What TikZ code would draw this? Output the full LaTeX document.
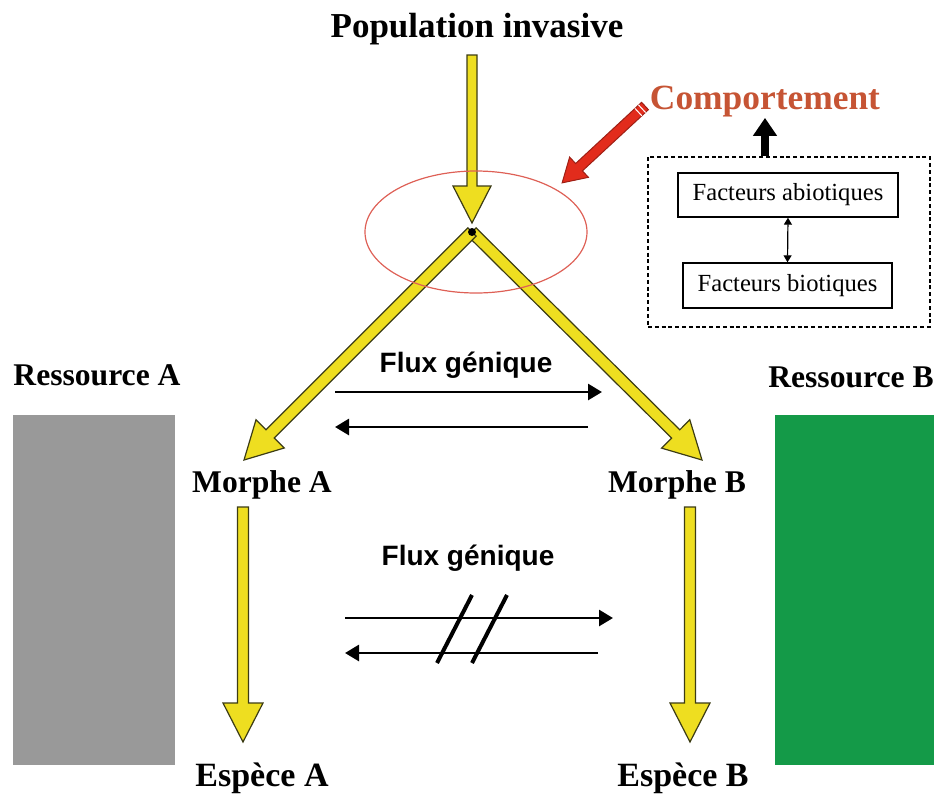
\documentclass[tikz,border=0pt]{standalone}
\usepackage{fontspec}
\setmainfont{Liberation Serif}
\newfontfamily\arialfont{Liberation Sans}
\usepackage{xcolor}
\usepackage{tikz}
\usetikzlibrary{arrows.meta}
\usetikzlibrary{shapes.geometric, calc}

\definecolor{giallo}{RGB}{238,222,32}
\definecolor{bordogiallo}{RGB}{60,60,20}
\definecolor{rossoellisse}{RGB}{222,96,86}
\definecolor{rossofreccia}{RGB}{226,44,28}
\definecolor{arancio}{RGB}{198,84,52}
\definecolor{grigio}{RGB}{153,153,153}
\definecolor{verde}{RGB}{20,154,72}

% freccia larga: [stile]{da}{a}{mezzo fusto}{mezza punta}{lunghezza punta}
\newcommand\frecciona[6][]{%
  \path let \p1=($(#3)-(#2)$) in
    \pgfextra{\pgfmathsetmacro\frang{atan2(\y1,\x1)}%
              \pgfmathsetmacro\frlen{veclen(\x1,\y1)}%
              \global\let\frang\frang \global\let\frlen\frlen};
  \filldraw[#1, shift={(#2)}, rotate=\frang]
    (0pt,-#4) -- (\frlen pt-#6,-#4) -- (\frlen pt-#6,-#5) -- (\frlen pt,0pt)
    -- (\frlen pt-#6,#5) -- (\frlen pt-#6,#4) -- (0pt,#4) -- cycle;}

\begin{document}
\begin{tikzpicture}[x=0.5pt, y=-0.5pt,
    titolo/.style={font=\bfseries\fontsize{17.5}{20}\selectfont, inner sep=0pt},
    morfo/.style={font=\bfseries\fontsize{15.8}{18}\selectfont, inner sep=0pt},
    specie/.style={font=\bfseries\fontsize{17}{19}\selectfont, inner sep=0pt},
    flusso/.style={font=\arialfont\bfseries\fontsize{14}{16}\selectfont, inner sep=0pt},
    fattore/.style={draw, line width=0.7pt, font=\fontsize{12.3}{14}\selectfont, inner sep=0pt},
    gialla/.style={fill=giallo, draw=bordogiallo, line width=0.6pt},
    rossa/.style={fill=rossofreccia, draw=rossofreccia!70!black, line width=0.5pt},
    flux/.style={line width=1.4pt, -{Triangle[length=7pt, width=8pt]}},
    barra/.style={line width=2pt}]
    \useasboundingbox (0,0) rectangle (934,794);

    % Risorse
    \fill[grigio] (13,415) rectangle (175,765);
    \fill[verde] (775,415) rectangle (934,765);
    \node[morfo] (resA) at (97,375) {Ressource A};
    \node[morfo] (resB) at (851,377) {Ressource B};

    % Etichette
    \node[titolo] (pop) at (477,29) {Population invasive};
    \node[morfo] (morfA) at (262,485) {Morphe A};
    \node[morfo] (morfB) at (677,485) {Morphe B};
    \node[specie] (specA) at (262,778) {Espèce A};
    \node[specie] (specB) at (683,778) {Espèce B};
    \node[titolo, text=arancio, font=\bfseries\fontsize{17.7}{20}\selectfont] (comp) at (765,102) {Comportement};

    % Fattori
    \node[draw, dashed, dash pattern=on 2pt off 1.4pt, line width=0.6pt,
          minimum width=141pt, minimum height=85pt] (fattori) at (789,242) {};
    \node[fattore, minimum width=110pt, minimum height=22pt] (abio) at (788,195) {Facteurs abiotiques};
    \node[fattore, minimum width=104.5pt, minimum height=22.5pt] (bio) at (787.5,285.5) {Facteurs biotiques};
    \draw[line width=0.6pt, {Triangle[length=3.5pt, width=4pt]}-{Triangle[length=3.5pt, width=4pt]}]
        (abio.south) -- (bio.north);
    \draw[line width=4pt, -{Triangle[length=9pt, width=11.5pt]}]
        (comp.south |- fattori.north) -- (comp.south);

    % Frecce gialle
    \coordinate (cima) at (472,55);
    \coordinate (punta) at (472,223);
    \coordinate (apice) at (472,232);
    \coordinate (puntaA) at (244,460);
    \coordinate (puntaB) at (702,460);
    \coordinate (sottoA) at (243,507);
    \coordinate (fineA) at (243,742);
    \coordinate (sottoB) at (690,507);
    \coordinate (fineB) at (690,742);
    \frecciona[gialla]{cima}{punta}{2.5pt}{9.5pt}{18.5pt}
    \frecciona[gialla]{apice}{puntaB}{2.9pt}{10pt}{18.5pt}
    \frecciona[gialla]{apice}{puntaA}{2.9pt}{10pt}{18.5pt}
    \frecciona[gialla]{sottoA}{fineA}{2.75pt}{10pt}{19.5pt}
    \frecciona[gialla]{sottoB}{fineB}{2.75pt}{10pt}{19.5pt}
    \fill (apice) circle (2pt);

    % Ellisse e matita
    \node[ellipse, draw=rossoellisse, line width=0.6pt, minimum width=111pt,
          minimum height=61pt, inner sep=0pt] (zona) at (476,232) {};
    \coordinate (coda) at (645,106);
    \coordinate (matita) at (562,183);
    \frecciona[rossa]{coda}{matita}{2.5pt}{6.9pt}{11.5pt}
    \draw[white, line width=0.5pt] ($(coda)!2pt!(matita)!2.6pt!90:(matita)$) -- ($(coda)!2pt!(matita)!2.6pt!-90:(matita)$);
    \draw[white, line width=0.5pt] ($(coda)!4.5pt!(matita)!2.6pt!90:(matita)$) -- ($(coda)!4.5pt!(matita)!2.6pt!-90:(matita)$);

    % Flusso genico
    \node[flusso] (flux1) at (466,365) {Flux génique};
    \node[flusso] (flux2) at (468,558) {Flux génique};
    \coordinate (a1) at (335,392); \coordinate (b1) at (602,392);
    \coordinate (c1) at (588,427); \coordinate (d1) at (335,427);
    \coordinate (a2) at (345,618); \coordinate (b2) at (613,618);
    \coordinate (c2) at (598,653); \coordinate (d2) at (345,653);
    \draw[flux] (a1) -- (b1);
    \draw[flux] (c1) -- (d1);
    \draw[flux] (a2) -- (b2);
    \draw[flux] (c2) -- (d2);
    \draw[barra] (437,663) -- (472,595);
    \draw[barra] (472,663) -- (507,595);
\end{tikzpicture}
\end{document}
